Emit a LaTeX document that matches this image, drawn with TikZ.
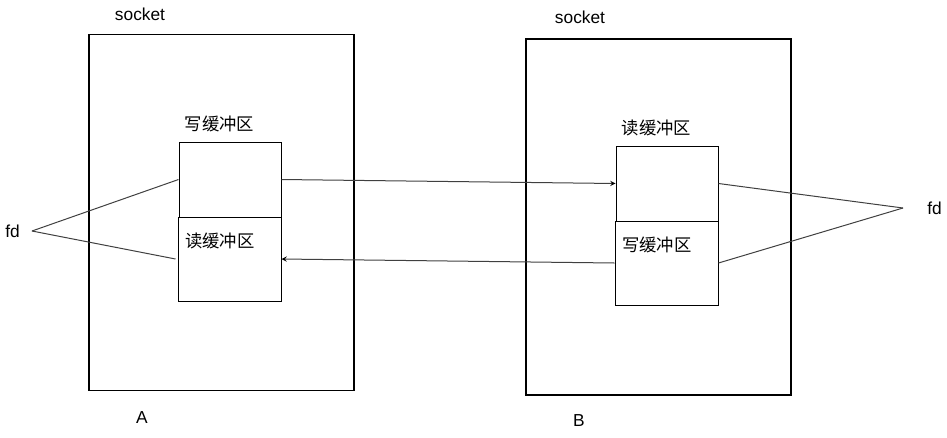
\documentclass[tikz,border=0pt]{standalone}
\usepackage{fontspec}
\setmainfont{Liberation Sans}
\newfontfamily\cjk{Noto Sans CJK SC}
\usetikzlibrary{positioning}

\tikzset{
  sock/.style={draw, line width=0.8pt, minimum width=198.75pt, minimum height=266.5pt, inner sep=0pt},
  wbuf/.style={draw, line width=0.75pt, minimum width=76.5pt, minimum height=56.25pt, inner sep=0pt},
  rbuf/.style={draw, line width=0.75pt, minimum width=77.25pt, minimum height=63pt, inner sep=0pt},
  lbl/.style={font=\fontsize{13}{15}\selectfont, inner sep=1pt},
  cn/.style={font=\cjk\fontsize{13}{15}\selectfont, inner sep=1pt},
  link/.style={draw=black!75, line width=0.75pt}
}

\begin{document}
\begin{tikzpicture}[x=0.75pt, y=-0.75pt]
  \useasboundingbox (0,0) rectangle (947,437);

  % socket A
  \node [sock] (sockA) at (221.5,212.5) {};
  \node [lbl] (sockA_t) at (140,14) {socket};
  \node [lbl] (nameA) at (142,418) {A};
  \node [wbuf] (wA) at (230,179.5) {};
  \node [rbuf] (rA) at (229.5,259) {};
  \node [cn] (wA_t) [above=6pt of wA, xshift=-8pt] {写缓冲区};
  \node [cn, anchor=north west] (rA_t) at ([xshift=4.5pt, yshift=-11pt]rA.north west) {读缓冲区};
  \node [lbl, anchor=east, inner xsep=9pt] (fdA) at (32,231) {fd};

  % socket B
  \node [sock, minimum height=267pt] (sockB) at (658.5,217) {};
  \node [lbl] (sockB_t) at (580,17) {socket};
  \node [lbl] (nameB) at (579,421) {B};
  \node [rbuf] (rB) at (667,183.5) [minimum width=76.5pt, minimum height=56.25pt] {};
  \node [rbuf] (wB) at (666.5,263) {};
  \node [cn] (rB_t) [above=6pt of rB, xshift=-8pt] {读缓冲区};
  \node [cn, anchor=north west] (wB_t) at ([xshift=4.5pt, yshift=-11pt]wB.north west) {写缓冲区};
  \node [lbl, anchor=west, inner xsep=18pt] (fdB) at (903,208) {fd};

  % fd to buffers
  \path [link]
    (fdA.east) edge (wA.west)
    (fdA.east) edge ([xshift=-1.5pt]rA.west)
    (fdB.west) edge (rB.east)
    (fdB.west) edge (wB.east);

  % data flow
  \path [link, >=stealth]
    (wA.east) edge [->] (rB.west)
    (wB.west) edge [->] (rA.east);
\end{tikzpicture}
\end{document}
